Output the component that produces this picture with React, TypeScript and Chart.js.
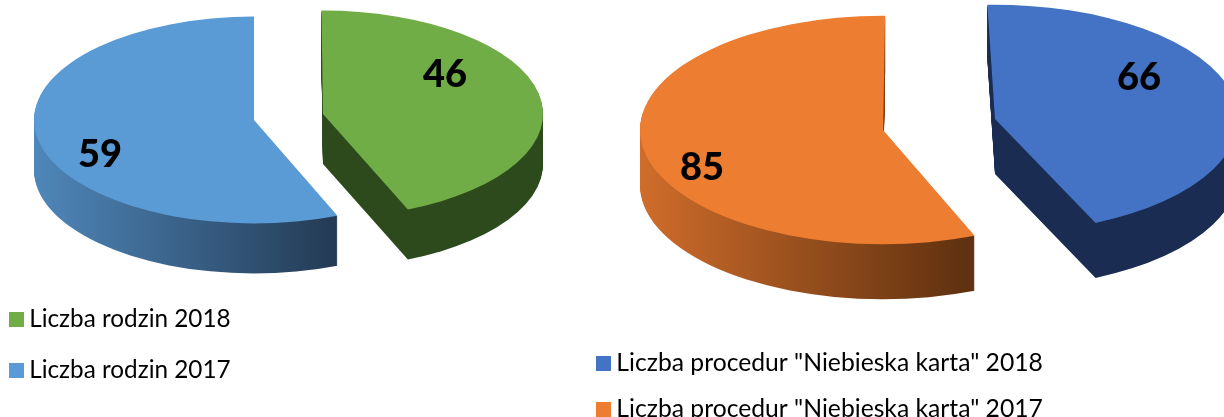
import React, { useEffect, useRef } from "react";
import { Chart, registerables } from "chart.js";

Chart.register(...registerables);

const familyLabels = ["Liczba rodzin 2018", "Liczba rodzin 2017"];
const familyValues = [46, 59];
const familyColors = ["#70AD47", "#5B9BD5"];

const procedureLabels = ['Liczba procedur "Niebieska karta" 2018', 'Liczba procedur "Niebieska karta" 2017'];
const procedureValues = [66, 85];
const procedureColors = ["#4472C4", "#ED7D31"];

const FONT = "Lato, 'Open Sans', sans-serif";

type Look = {
  radius: number;
  squash: number;
  depth: number;
  rotation: number;
  tilt: number[];
  apex: number[][];
  labelAt: number[][];
  side: string[][];
  legendFont: number;
  legendLeft: number;
  legendTop: number;
  legendGap: number;
};

const familyLook: Look = {
  radius: 220,
  squash: 0.47,
  depth: 50,
  rotation: 0,
  tilt: [-0.4, 0],
  apex: [[323, 114], [254, 120]],
  labelAt: [[445, 75], [100, 155]],
  side: [["#2D4A1C", "#2D4A1C"], ["#4F87BA", "#233A54"]],
  legendFont: 24.3,
  legendLeft: 9,
  legendTop: 312,
  legendGap: 51,
};

const procedureLook: Look = {
  radius: 243,
  squash: 0.47,
  depth: 55,
  rotation: -1,
  tilt: [-0.8, 1.5],
  apex: [[995 - 590, 119], [883 - 590, 130]],
  labelAt: [[1139 - 590, 78], [702 - 590, 168]],
  side: [["#1A2C52", "#1A2C52"], ["#D06D2B", "#5F3110"]],
  legendFont: 24.7,
  legendLeft: 596 - 590,
  legendTop: 356,
  legendGap: 46,
};

const SWATCH_CORE = 1;
const SWATCH_STROKE = 14;

function pie3dPlugin(look: Look) {
  return {
    id: "pie3d",
    afterLayout(chart: any) {
      const lg = chart.legend;
      const pad = lg.options.labels.padding;
      const corner = Math.max((look.legendFont - SWATCH_CORE) / 2, 0) - SWATCH_STROKE / 2;
      lg.left = look.legendLeft + SWATCH_STROKE / 2 - pad;
      lg.right = chart.width;
      lg.top = look.legendTop - corner - pad;
      lg.bottom = 2000;
    },
    beforeDatasetsDraw(chart: any) {
      const ctx = chart.ctx;
      const arcs = chart.getDatasetMeta(0).data;
      const R = look.radius;
      arcs.forEach((arc: any, i: number) => {
        const [ax, ay] = look.apex[i];
        const place = (dy: number) => {
          ctx.translate(ax, ay + dy);
          ctx.scale(1, look.squash);
          ctx.rotate((look.tilt[i] * Math.PI) / 180);
          ctx.translate(-arc.x, -arc.y);
        };
        const base = arc.options;
        const grad = ctx.createLinearGradient(arc.x - R, 0, arc.x + R * 0.38, 0);
        grad.addColorStop(0, look.side[i][0]);
        grad.addColorStop(1, look.side[i][1]);
        arc.options = { ...base, backgroundColor: grad, borderWidth: 0 };
        for (let d = look.depth; d >= 1; d--) {
          ctx.save();
          place(d);
          arc.draw(ctx);
          ctx.restore();
        }
        arc.options = base;
        ctx.save();
        place(0);
        arc.draw(ctx);
        ctx.restore();
      });
      return false;
    },
    afterDraw(chart: any) {
      const ctx = chart.ctx;
      const values = chart.data.datasets[0].data;
      ctx.save();
      ctx.fillStyle = "#000000";
      ctx.font = `900 38px ${FONT}`;
      ctx.textAlign = "center";
      ctx.textBaseline = "middle";
      values.forEach((v: number, i: number) => {
        ctx.fillText(String(v), look.labelAt[i][0], look.labelAt[i][1]);
      });
      ctx.restore();
    },
  };
}

function makeChart(canvas: HTMLCanvasElement, labels: string[], values: number[], colors: string[], look: Look) {
  return new Chart(canvas, {
    type: "pie",
    data: {
      labels,
      datasets: [{ data: values, backgroundColor: colors, borderWidth: 0 }],
    },
    options: {
      animation: false,
      responsive: false,
      radius: look.radius,
      rotation: look.rotation,
      layout: { padding: 0 },
      plugins: {
        tooltip: { enabled: false },
        legend: {
          display: true,
          position: "chartArea",
          align: "start",
          labels: {
            font: { family: FONT, size: look.legendFont },
            color: "#000000",
            boxWidth: SWATCH_CORE,
            boxHeight: SWATCH_CORE,
            padding: look.legendGap - look.legendFont,
            generateLabels: (chart: any) =>
              chart.data.labels.map((text: string, i: number) => ({
                text,
                fillStyle: colors[i],
                strokeStyle: colors[i],
                lineWidth: SWATCH_STROKE,
                fontColor: "#000000",
                hidden: false,
                index: i,
              })),
          },
        },
      },
    } as any,
    plugins: [pie3dPlugin(look)],
  } as any);
}

export default function App() {
  const leftRef = useRef<HTMLCanvasElement>(null);
  const rightRef = useRef<HTMLCanvasElement>(null);
  useEffect(() => {
    const a = makeChart(leftRef.current!, familyLabels, familyValues, familyColors, familyLook);
    const b = makeChart(rightRef.current!, procedureLabels, procedureValues, procedureColors, procedureLook);
    return () => {
      a.destroy();
      b.destroy();
    };
  }, []);
  return (
    <div style={{ position: "fixed", left: 0, top: 0, width: 1224, height: 417, overflow: "hidden", background: "#fff" }}>
      <canvas ref={leftRef} width={590} height={417} style={{ position: "absolute", left: 0, top: 0, display: "block" }} />
      <canvas ref={rightRef} width={634} height={417} style={{ position: "absolute", left: 590, top: 0, display: "block" }} />
    </div>
  );
}
